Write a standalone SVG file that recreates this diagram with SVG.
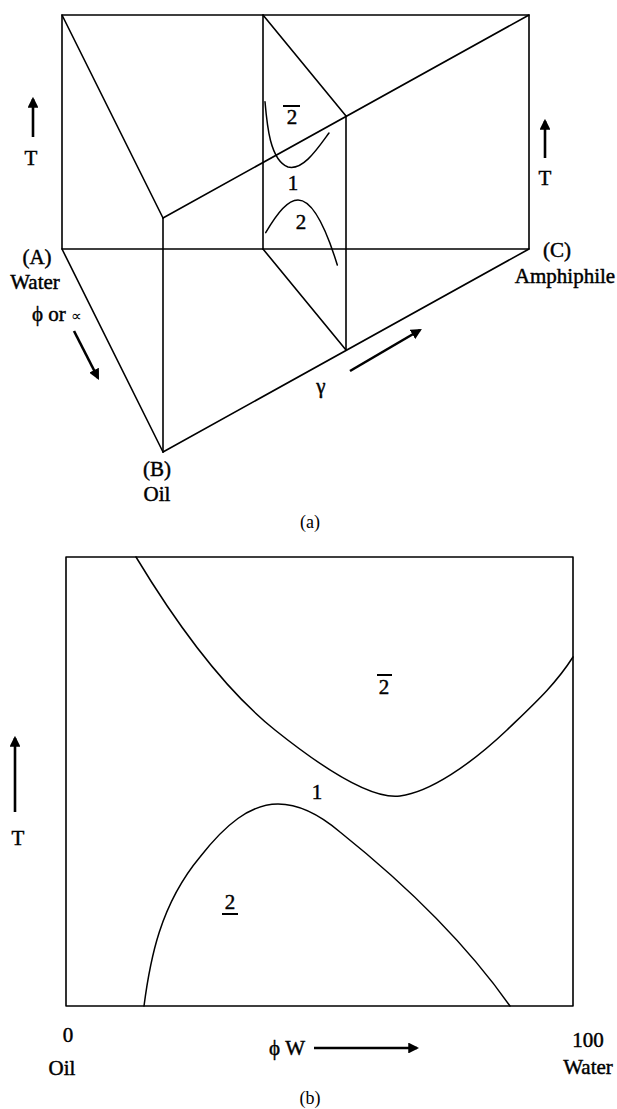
<svg xmlns="http://www.w3.org/2000/svg" width="617" height="1109" viewBox="0 0 617 1109">
<style>
.e{stroke:#000;stroke-width:1.6;fill:none;stroke-linecap:round;stroke-linejoin:round}
.c{stroke:#000;stroke-width:1.5;fill:none;stroke-linecap:round}
.ar{stroke:#000;stroke-width:2.6;fill:none;marker-end:url(#ah)}
.t{font-family:"Liberation Serif","Times New Roman",serif;font-size:21px;fill:#000;stroke:#000;stroke-width:0.45;text-anchor:middle}
.n{font-family:"Liberation Serif","Times New Roman",serif;font-size:18px;fill:#000;text-anchor:middle}
.bar{stroke:#000;stroke-width:2}
</style>
<defs>
<marker id="ah" viewBox="0 0 10 10" refX="8" refY="5" markerWidth="4.2" markerHeight="4.2" orient="auto" markerUnits="strokeWidth">
<path d="M0,0 L10,5 L0,10 Z" fill="#000"/>
</marker>
</defs>
<rect width="617" height="1109" fill="#fff"/>

<g id="prism">
<path class="e" d="M62,15 H529 V249 H62 Z"/>
<line class="e" x1="263" y1="15" x2="263" y2="249"/>
<line class="e" x1="62" y1="15" x2="163" y2="218"/>
<line class="e" x1="163" y1="218" x2="529" y2="15"/>
<line class="e" x1="163" y1="218" x2="163" y2="452"/>
<line class="e" x1="263" y1="15" x2="346" y2="116"/>
<line class="e" x1="346" y1="116" x2="346" y2="350"/>
<line class="e" x1="263" y1="249" x2="346" y2="350"/>
<line class="e" x1="62" y1="249" x2="163" y2="452"/>
<line class="e" x1="163" y1="452" x2="529" y2="249"/>
</g>

<g id="section-curves">
<path class="c" d="M265,101.7 C267,125 270,160 288,167 C303,171 318,148 329,133"/>
<path class="c" d="M265.7,232.7 C278,212 288,200 298,200 C312,200 325,225 337.3,265"/>
</g>

<g id="connectors">
<line class="ar" x1="33" y1="137" x2="33" y2="99"/>
<line class="ar" x1="545" y1="158" x2="545" y2="121"/>
<line class="ar" x1="74" y1="331" x2="98" y2="378"/>
<line class="ar" x1="350" y1="371" x2="420" y2="330"/>
<line class="ar" x1="15" y1="812" x2="15" y2="738"/>
<line class="ar" x1="314" y1="1048" x2="417" y2="1048"/>
</g>

<g id="labels-a">
<text class="t" x="31" y="165">T</text>
<text class="t" x="545" y="185">T</text>
<text class="t" x="37" y="264">(A)</text>
<text class="t" x="35" y="289">Water</text>
<text class="t" x="57" y="321">ϕ or <tspan font-size="15" stroke-width="0">∝</tspan></text>
<text class="t" x="321" y="393">γ</text>
<text class="t" x="557" y="257">(C)</text>
<text class="t" x="565" y="283">Amphiphile</text>
<text class="t" x="157" y="476">(B)</text>
<text class="t" x="157" y="501">Oil</text>
<text class="t" x="292" y="124">2</text>
<line class="bar" x1="283" y1="106" x2="300" y2="106"/>
<text class="t" x="293" y="190">1</text>
<text class="t" x="301" y="229">2</text>
<text class="n" x="310" y="528">(a)</text>
</g>

<g id="plot-b">
<rect class="e" x="66" y="557" width="507" height="449"/>
<path class="c" d="M136,557 C165,605 215,682 275,730 C320,766 370,800 400,796 C430,792 470,765 507,730 C535,703 555,685 573,657"/>
<path class="c" d="M144,1006 C150,960 160,905 200,857 C225,825 250,804 278,804 C300,804 320,815 340,832 C390,872 460,935 510,1006"/>
</g>

<g id="labels-b">
<text class="t" x="384" y="694">2</text>
<line class="bar" x1="377" y1="675" x2="392" y2="675"/>
<text class="t" x="317" y="799">1</text>
<text class="t" x="230" y="909">2</text>
<line class="bar" x1="222" y1="914" x2="238" y2="914"/>
<text class="t" x="18" y="845">T</text>
<text class="t" x="68" y="1042">0</text>
<text class="t" x="62" y="1075">Oil</text>
<text class="t" x="287" y="1055">ϕ W</text>
<text class="t" x="588" y="1047">100</text>
<text class="t" x="588" y="1074">Water</text>
<text class="n" x="310" y="1104">(b)</text>
</g>
</svg>
